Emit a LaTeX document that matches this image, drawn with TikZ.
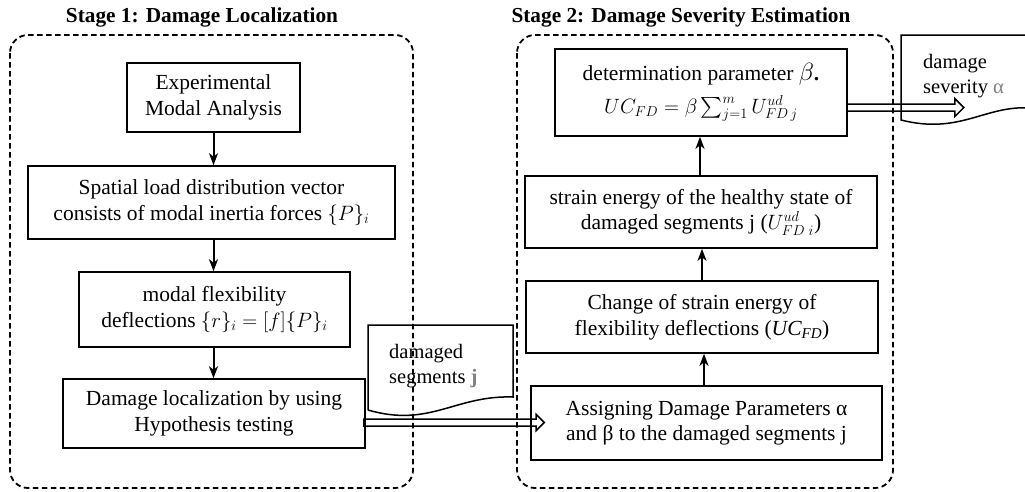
\documentclass[tikz,border=0pt]{standalone}
\usepackage{amsmath}
\usepackage{fontspec}
\setmainfont{Liberation Serif}
\usetikzlibrary{arrows.meta,calc}
\definecolor{tgray}{RGB}{128,128,128}
\begin{document}
\begin{tikzpicture}[x=1pt,y=-1pt,
  box/.style={draw, line width=1.6pt, align=center, inner sep=0pt, font=\fontsize{21.5}{25.5}\selectfont},
  stagebox/.style={draw, line width=1.8pt, dash pattern=on 5.5pt off 3.5pt, rounded corners=18pt},
  flow/.style={line width=2pt, -{Stealth[length=12pt,width=9pt,inset=3.5pt]}},
  titletext/.style={font=\fontsize{21.3}{24}\selectfont\bfseries, inner sep=0pt},
  doc/.style={line width=1.5pt},
  doctext/.style={font=\fontsize{20.5}{25}\selectfont, align=left, inner sep=0pt},
  blockarr/.style={line width=1.5pt, line join=miter}
]
\useasboundingbox (0,0) rectangle (1025,491);

% stage containers
\draw[stagebox] (10,35) rectangle (413,488);
\draw[stagebox] (517,35) rectangle (893,488);

\node[titletext, anchor=base] (t1) at (202,22) {Stage 1: Damage Localization};
\node[titletext, anchor=base] (t2) at (681,22) {Stage 2: Damage Severity Estimation};

% stage 1
\node[box, minimum width=173pt, minimum height=69pt] (exp) at (213.5,97.5) {Experimental\\Modal Analysis};
\node[box, minimum width=367pt, minimum height=73pt] (spatial) at (211.5,202.5) {Spatial load distribution vector\\consists of modal inertia forces $\{P\}_i$};
\node[box, minimum width=271pt, minimum height=75pt] (flex) at (214.5,309.5) {modal flexibility\\deflections $\{r\}_i=[f]\{P\}_i$};
\node[box, minimum width=302pt, minimum height=69pt] (loc) at (214,413.5) {Damage localization by using\\Hypothesis testing};

\draw[flow] (exp.south) -- (exp.south |- spatial.north);
\draw[flow] (spatial.south -| exp.south) -- (exp.south |- flex.north);
\draw[flow] (flex.south -| exp.south) -- (exp.south |- loc.north);

% stage 2
\node[box, minimum width=292pt, minimum height=87pt] (det) at (701,92.5) {determination parameter {\fontsize{25}{25}\selectfont$\beta$}\textbf{.}\\[7pt]$UC_{FD}=\beta\sum_{j=1}^{m}U^{ud}_{FD\,j}$};
\node[box, minimum width=352pt, minimum height=72pt] (strain) at (701,212) {strain energy of the healthy state of\\damaged segments j ($U^{ud}_{FD\;i}$)};
\node[box, minimum width=352pt, minimum height=72pt] (change) at (702,317) {Change of strain energy of\\flexibility deflections ($\mathit{UC}_{\mathit{FD}}$)};
\node[box, minimum width=351pt, minimum height=74pt] (assign) at (706.5,423) {Assigning Damage Parameters α\\and β to the damaged segments j};

\draw[flow] (assign.north -| 704,0) -- (change.south -| 704,0);
\draw[flow] (change.north -| 702,0) -- (strain.south -| 702,0);
\draw[flow] (strain.north -| 700,0) -- (det.south -| 700,0);

% document shapes
\draw[doc] (368,410) -- (368,325) -- (513,325) -- (513,397) .. controls (455,395) and (430,428) .. (368,410);
\node[doctext, anchor=west] (dseg) at (389,366) {damaged\\segments {\color{tgray}\textbf{j}}};

\draw[doc] (1030,35) -- (901,35) -- (901,120) .. controls (960,135) and (985,105) .. (1030,108);
\node[doctext, anchor=west] (dsev) at (923,76) {damage\\severity {\color{tgray}α}};

% block arrows
\coordinate (b1) at ($(loc.east)+(-2,9)$);
\coordinate (b2) at ($(assign.west |- b1)+(14,0)$);
\draw[blockarr] ($(b1)+(0,-3.5)$) -- ($(b2)+(-8,-3.5)$) -- ($(b2)+(-8,-8)$) -- (b2) -- ($(b2)+(-8,8)$) -- ($(b2)+(-8,3.5)$) -- ($(b1)+(0,3.5)$) -- cycle;

\coordinate (c1) at ($(det.east)+(0,15)$);
\coordinate (c2) at ($(c1)+(116,0)$);
\draw[blockarr] ($(c1)+(0,-3.5)$) -- ($(c2)+(-9,-3.5)$) -- ($(c2)+(-9,-9)$) -- (c2) -- ($(c2)+(-9,9)$) -- ($(c2)+(-9,3.5)$) -- ($(c1)+(0,3.5)$);
\end{tikzpicture}
\end{document}
